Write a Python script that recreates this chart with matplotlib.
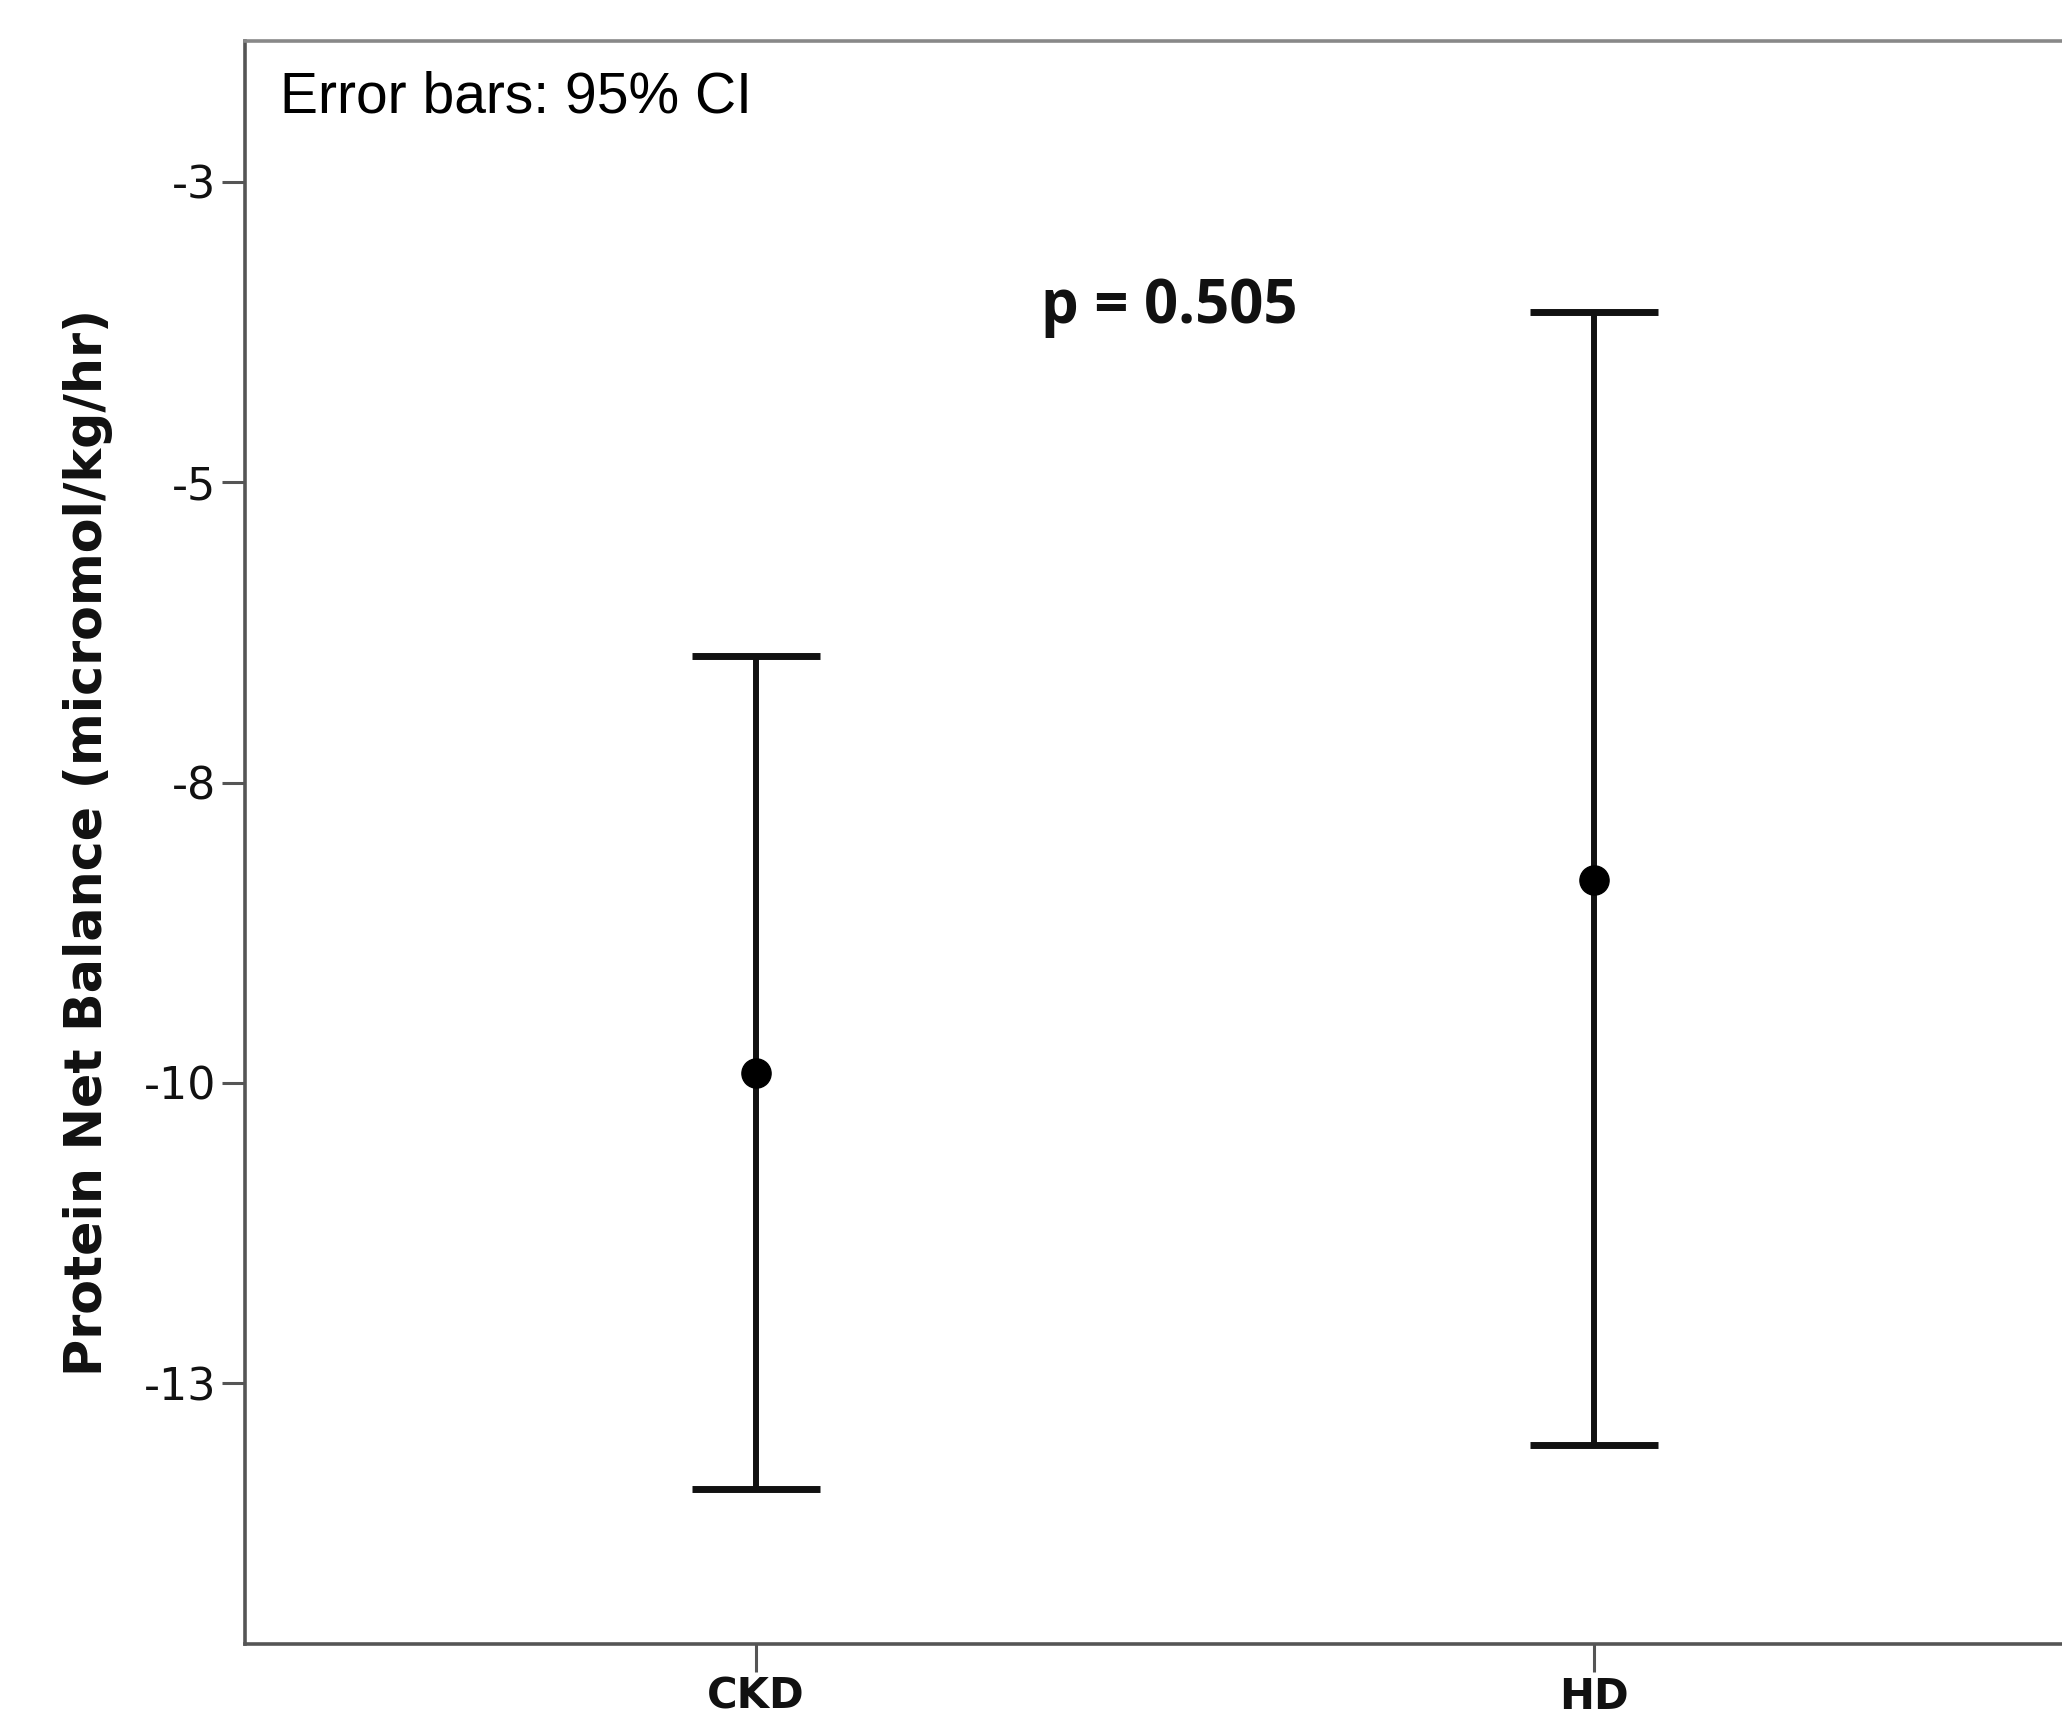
import matplotlib
matplotlib.use("Agg")
import matplotlib.pyplot as plt
import numpy as np

# Data
categories = ["CKD", "HD"]
means = [-10.42, -8.81]
ci_upper = [-6.95, -4.08]
ci_lower = [-13.88, -13.51]
ytick_values = [-3, -5.5, -8, -10.5, -13]
ytick_labels = ["-3", "-5", "-8", "-10", "-13"]
p_text = "p = 0.505"
note_text = "Error bars: 95% CI"
ylabel = "Protein Net Balance (micromol/kg/hr)"

W, H, DPI = 2062, 1713, 100
fig = plt.figure(figsize=(W / DPI, H / DPI), dpi=DPI)
fig.patch.set_facecolor("white")

left_px, right_px, top_px, bottom_px = 245, 2105, 41, 1644
ax = fig.add_axes([left_px / W, 1 - bottom_px / H,
                   (right_px - left_px) / W, (bottom_px - top_px) / H])

x = np.arange(len(categories))
means_a = np.array(means)
yerr = np.vstack([means_a - np.array(ci_lower), np.array(ci_upper) - means_a])

ax.errorbar(x, means_a, yerr=yerr, fmt="o", color="black", ecolor="#111111",
            elinewidth=4.3, capsize=46, capthick=5, markersize=21, zorder=3)

ax.set_xlim(-0.61, 1.61)
ax.set_ylim(-15.17, -1.827)

ax.set_yticks(ytick_values)
ax.set_yticklabels(ytick_labels, fontfamily="DejaVu Sans", fontsize=32,
                   color="#111111")
ax.set_xticks(x)
ax.set_xticklabels(categories, fontfamily="DejaVu Sans", fontsize=30,
                   fontweight="semibold", color="#111111")

ax.tick_params(axis="y", length=16.5, width=2.2, color="#555555", pad=4)
ax.tick_params(axis="x", length=20, width=2.2, color="#555555", pad=3)

for side in ["left", "bottom", "top", "right"]:
    ax.spines[side].set_linewidth(2.6)
    ax.spines[side].set_color("#555555")
ax.spines["top"].set_color("#888888")

ax.set_ylabel(ylabel, fontfamily="DejaVu Sans", fontweight="bold",
              fontsize=36.5, color="#111111")
ax.yaxis.set_label_coords(-0.071, 0.5)

ax.text(0.0188, 0.9555, note_text, transform=ax.transAxes,
        fontfamily="Liberation Sans", fontsize=41, va="baseline", ha="left",
        color="black")
ax.text(0.428, 0.824, p_text, transform=ax.transAxes,
        fontfamily=["Open Sans", "DejaVu Sans"], fontweight="bold",
        fontsize=43, va="baseline", ha="left", color="#111111")

fig.savefig("out.png", dpi=DPI, facecolor="white")
